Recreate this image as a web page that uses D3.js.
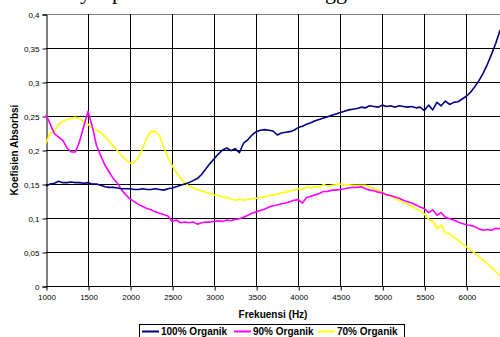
<!DOCTYPE html>
<html><head><meta charset="utf-8">
<script src="https://cdn.jsdelivr.net/npm/d3@7"></script>
<style>
html,body{margin:0;padding:0;background:#fff;}
svg{display:block;}
</style></head>
<body>
<script>
const freqStart = 1000, freqStep = 50;
const xTicks = [1000,1500,2000,2500,3000,3500,4000,4500,5000,5500,6000];
const yTicks = [0,0.05,0.1,0.15,0.2,0.25,0.3,0.35,0.4];
const seriesNames = ["100% Organik","90% Organik","70% Organik"];
const organik100 = [0.147,0.150,0.151,0.154,0.152,0.152,0.153,0.152,0.152,0.151,0.152,0.150,0.150,0.148,0.146,0.145,0.145,0.144,0.143,0.143,
0.143,0.142,0.142,0.143,0.142,0.142,0.143,0.142,0.141,0.143,0.144,0.146,0.148,0.150,0.152,0.155,0.158,0.164,0.172,0.180,
0.187,0.194,0.200,0.203,0.199,0.202,0.196,0.210,0.215,0.222,0.227,0.229,0.230,0.229,0.228,0.222,0.225,0.226,0.227,0.229,
0.233,0.235,0.238,0.240,0.243,0.245,0.247,0.249,0.251,0.253,0.255,0.257,0.259,0.260,0.261,0.263,0.262,0.265,0.264,0.263,
0.266,0.264,0.265,0.263,0.265,0.264,0.263,0.264,0.262,0.263,0.258,0.266,0.259,0.270,0.265,0.272,0.267,0.270,0.271,0.275,
0.279,0.285,0.293,0.302,0.313,0.326,0.341,0.357,0.376];
const organik90 = [0.252,0.238,0.224,0.219,0.214,0.203,0.197,0.197,0.213,0.235,0.257,0.235,0.207,0.192,0.178,0.168,0.158,0.151,0.141,0.134,
0.128,0.124,0.120,0.117,0.114,0.112,0.109,0.107,0.105,0.103,0.095,0.097,0.093,0.094,0.093,0.094,0.091,0.093,0.094,0.094,
0.095,0.096,0.095,0.097,0.096,0.098,0.099,0.101,0.104,0.107,0.109,0.111,0.113,0.116,0.118,0.119,0.121,0.122,0.124,0.126,
0.127,0.122,0.130,0.132,0.134,0.136,0.139,0.139,0.141,0.141,0.142,0.143,0.144,0.145,0.145,0.146,0.143,0.141,0.140,0.138,
0.137,0.134,0.133,0.131,0.129,0.126,0.124,0.122,0.119,0.116,0.114,0.108,0.112,0.104,0.108,0.101,0.099,0.097,0.094,0.092,
0.090,0.089,0.087,0.084,0.082,0.083,0.082,0.085,0.084];
const organik70 = [0.210,0.225,0.227,0.238,0.242,0.245,0.247,0.248,0.246,0.241,0.238,0.232,0.229,0.226,0.220,0.213,0.206,0.199,0.192,0.186,
0.181,0.182,0.189,0.203,0.218,0.228,0.227,0.221,0.204,0.190,0.177,0.167,0.159,0.152,0.147,0.144,0.142,0.140,0.138,0.136,
0.134,0.133,0.131,0.130,0.128,0.126,0.128,0.126,0.128,0.128,0.129,0.130,0.131,0.133,0.134,0.135,0.137,0.138,0.140,0.141,
0.143,0.142,0.146,0.144,0.146,0.145,0.149,0.147,0.148,0.149,0.150,0.149,0.149,0.148,0.148,0.148,0.148,0.146,0.143,0.141,
0.138,0.135,0.132,0.129,0.126,0.123,0.120,0.117,0.114,0.111,0.106,0.098,0.096,0.084,0.090,0.078,0.077,0.072,0.067,0.062,
0.058,0.053,0.048,0.043,0.038,0.033,0.027,0.021,0.015];
const colors = ["#000080","#FF00FF","#FFFF00"];

(function(){
const W = 500, H = 337;
const mLeft = 46, mRight = 500, mTop = 14, mBottom = 286;
const svg = d3.select("body").append("svg").attr("width", W).attr("height", H)
  .style("font-family", "Arial, 'Liberation Sans', sans-serif");

// cut-off text above the chart
const serif = svg.append("g").style("font-family","'Liberation Serif', 'Times New Roman', serif").style("font-size","22px");
serif.append("text").attr("x", 80).attr("y", -1).text("y");
serif.append("text").attr("x", 112).attr("y", -1).text("p");
serif.append("text").attr("x", 325).attr("y", -1).text("gg");

const x = d3.scaleLinear().domain([1000, 6400]).range([mLeft, mRight]);
const y = d3.scaleLinear().domain([0, 0.4]).range([mBottom, mTop]);

const fmt = d => d3.format(".2~f")(d).replace(".", ",");

// grid
const grid = svg.append("g").attr("shape-rendering","crispEdges");
grid.selectAll("line.h").data(yTicks).join("line")
  .attr("x1", mLeft).attr("x2", mRight).attr("y1", d => Math.round(y(d))+0.5).attr("y2", d => Math.round(y(d))+0.5)
  .attr("stroke", d => d === 0.4 ? "#808080" : "#000").attr("stroke-width", 1);
grid.selectAll("line.v").data(xTicks.slice(1)).join("line")
  .attr("y1", mTop).attr("y2", mBottom).attr("x1", d => Math.round(x(d))+0.5).attr("x2", d => Math.round(x(d))+0.5)
  .attr("stroke", "#000").attr("stroke-width", 1);

// axes
const yAxis = svg.append("g").attr("transform", `translate(${mLeft+0.5},0.5)`)
  .call(d3.axisLeft(y).tickValues(yTicks).tickFormat(fmt).tickSize(4).tickPadding(3));
const xAxis = svg.append("g").attr("transform", `translate(0.5,${Math.round(mBottom)+0.5})`)
  .call(d3.axisBottom(x).tickValues(xTicks).tickFormat(d3.format("d")).tickSize(4).tickPadding(4));
[yAxis, xAxis].forEach(a => {
  a.select(".domain").attr("stroke", "#000");
  a.selectAll(".tick line").attr("stroke", "#000");
  a.selectAll("text").attr("fill", "#000").style("font-size", "8px").style("font-family","Arial, 'Liberation Sans', sans-serif");
});
xAxis.select(".domain").remove();

// lines
const series = [organik100, organik90, organik70];
const line = d3.line().x((d, i) => x(freqStart + i*freqStep)).y(d => y(d));
const order = [2, 1, 0];
svg.append("g").selectAll("path").data(order).join("path")
  .attr("d", k => line(series[k]))
  .attr("fill", "none").attr("stroke", k => colors[k]).attr("stroke-width", 1.6)
  .attr("stroke-linejoin", "round");

// axis titles
svg.append("text").attr("x", (mLeft+mRight)/2).attr("y", 318).attr("text-anchor","middle")
  .style("font-size","10px").style("font-weight","bold").text("Frekuensi (Hz)");
svg.append("text").attr("transform", `translate(18,${(mTop+mBottom)/2}) rotate(-90)`).attr("text-anchor","middle")
  .style("font-size","10px").style("font-weight","bold").text("Koefisien Absorbsi");

// legend
const lg = svg.append("g");
lg.append("rect").attr("x", 139.5).attr("y", 324.5).attr("width", 265).attr("height", 20)
  .attr("fill", "#fff").attr("stroke", "#000").attr("stroke-width", 1);
const items = [{sx:142, tx:161},{sx:234, tx:253},{sx:318, tx:337}];
items.forEach((it, k) => {
  lg.append("line").attr("x1", it.sx).attr("x2", it.sx+17).attr("y1", 331.5).attr("y2", 331.5)
    .attr("stroke", colors[k]).attr("stroke-width", 2);
  lg.append("text").attr("x", it.tx).attr("y", 335).style("font-size","10px").style("font-weight","bold").text(seriesNames[k]);
});
})();
</script>
</body></html>
